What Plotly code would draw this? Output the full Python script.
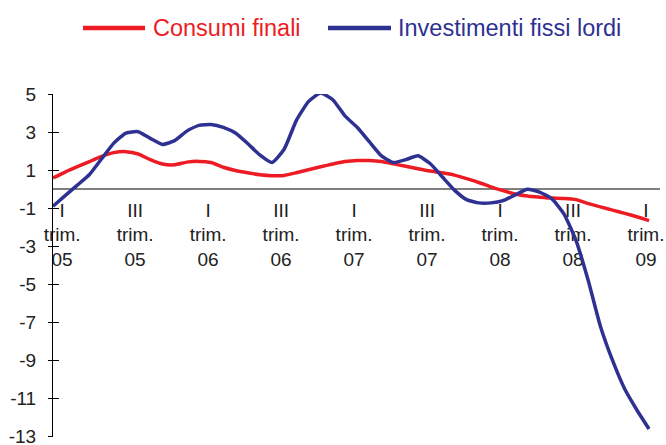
import plotly.graph_objects as go

# Monthly observations, Jan 2005 .. (index 0..49)
months = list(range(50))
consumi = [0.59, 0.90, 1.18, 1.45, 1.72, 1.92, 1.97, 1.85, 1.55, 1.32,
           1.28, 1.42, 1.46, 1.40, 1.15, 0.98, 0.86, 0.76, 0.71, 0.72,
           0.86, 1.02, 1.18, 1.32, 1.45, 1.51, 1.50, 1.45, 1.33, 1.20,
           1.07, 0.95, 0.86, 0.74, 0.55, 0.35, 0.12, -0.08, -0.25, -0.36,
           -0.42, -0.47, -0.49, -0.55, -0.76, -0.93, -1.10, -1.27, -1.45, -1.65]
investimenti = [-0.90, -0.34, 0.21, 0.77, 1.60, 2.42, 2.95, 3.02, 2.67, 2.35,
                2.55, 3.05, 3.35, 3.40, 3.25, 2.95, 2.40, 1.80, 1.40, 2.10,
                3.60, 4.60, 5.05, 4.70, 3.85, 3.25, 2.50, 1.75, 1.40, 1.55,
                1.75, 1.35, 0.65, -0.05, -0.55, -0.72, -0.72, -0.60, -0.30, 0.00,
                -0.15, -0.50, -1.30, -2.70, -4.80, -7.20, -9.00, -10.50, -11.60, -12.60]

tick_pos = [0.75 + 6 * k for k in range(9)]
tick_text = ["I<br>trim.<br>05", "III<br>trim.<br>05", "I<br>trim.<br>06", "III<br>trim.<br>06",
             "I<br>trim.<br>07", "III<br>trim.<br>07", "I<br>trim.<br>08", "III<br>trim.<br>08",
             "I<br>trim.<br>09"]
y_ticks = [5, 3, 1, -1, -3, -5, -7, -9, -11, -13]
y_tick_text = ["5", "3", "1", "-1", "-3", "-5", "-7", "-9", "-11", "-13"]

RED = "#ED1C24"
BLUE = "#2E3192"
FONT = "Liberation Sans, Arial, sans-serif"
TXT = "#222222"

fig = go.Figure()
fig.add_trace(go.Scatter(x=months, y=consumi, mode="lines", name="Consumi finali",
                         line=dict(color=RED, width=3.5, shape="spline", smoothing=0.5)))
fig.add_trace(go.Scatter(x=months, y=investimenti, mode="lines", name="Investimenti fissi lordi",
                         line=dict(color=BLUE, width=3.5, shape="spline", smoothing=0.5)))
# invisible trace to host the inner tick marks axis
fig.add_trace(go.Scatter(x=[months[0]], y=[y_ticks[0]], mode="none", yaxis="y2",
                         showlegend=False, hoverinfo="skip"))

L, R, T, B = 53, 6, 94, 8
W, H = 666, 445
pw, ph = W - L - R, H - T - B

def px2paper_x(px):
    return (px - L) / pw

def px2paper_y(py):
    return (H - B - py) / ph

YR = [-13.02, 5.0]

fig.update_layout(
    width=W, height=H,
    margin=dict(l=L, r=R, t=T, b=B, autoexpand=False),
    paper_bgcolor="white", plot_bgcolor="white",
    showlegend=False,
    font=dict(family=FONT, size=19, color=TXT),
    xaxis=dict(range=[0, 49.9], showgrid=False, zeroline=False, automargin=False,
               anchor="free", position=(0 - YR[0]) / (YR[1] - YR[0]),
               showline=True, linecolor="#7f7f7f", linewidth=1.5,
               tickmode="array", tickvals=tick_pos, ticktext=tick_text,
               ticks="", ticklabelstandoff=4, layer="below traces",
               ticklabeloverflow="allow",
               tickfont=dict(size=19, color=TXT)),
    yaxis=dict(range=YR, showgrid=False, zeroline=False, automargin=False,
               showline=True, linecolor="#000000", linewidth=1,
               tickmode="array", tickvals=y_ticks, ticktext=y_tick_text,
               ticks="outside", ticklen=4, tickcolor="#000000",
               ticklabeloverflow="allow",
               ticklabelstandoff=8, tickfont=dict(size=19, color=TXT)),
    yaxis2=dict(range=YR, overlaying="y", side="left", anchor="x", automargin=False,
                showgrid=False, zeroline=False, showline=False,
                tickmode="array", tickvals=y_ticks, showticklabels=False,
                ticks="inside", ticklen=6, tickcolor="#000000"),
)

# Legend drawn as shapes and text at the top
legend_items = [("Consumi finali", RED, 83, 145, 151), ("Investimenti fissi lordi", BLUE, 328, 391, 396)]
ly = 28
for name, col, x0, x1, tx in legend_items:
    fig.add_shape(type="line", xref="paper", yref="paper",
                  x0=px2paper_x(x0), x1=px2paper_x(x1), y0=px2paper_y(ly), y1=px2paper_y(ly),
                  line=dict(color=col, width=4.5))
    fig.add_annotation(xref="paper", yref="paper", x=px2paper_x(tx), y=px2paper_y(ly),
                       xanchor="left", yanchor="middle", showarrow=False, text=name,
                       font=dict(family=FONT, size=23.5, color=col))

fig.write_html("out.html", config={"displayModeBar": False},
               post_script="document.body.style.margin='0px';document.body.style.overflow='hidden';")
